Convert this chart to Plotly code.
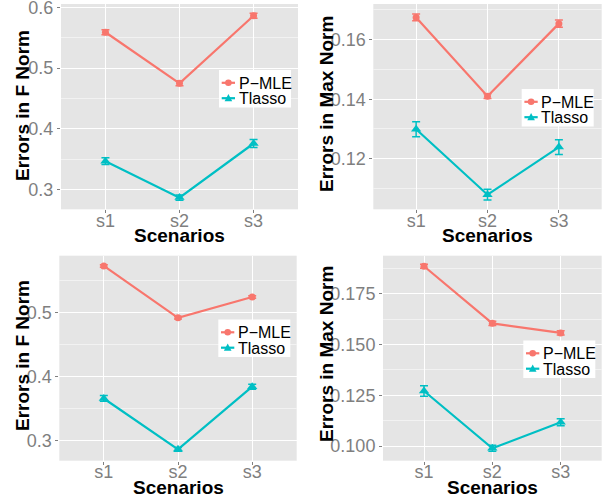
import plotly.graph_objects as go

scenarios = ["s1", "s2", "s3"]

# Panel 1: top-left, Errors in F Norm
p1_pmle = [0.559, 0.475, 0.586]
p1_pmle_err = [0.004, 0.004, 0.004]
p1_tlasso = [0.347, 0.287, 0.376]
p1_tlasso_err = [0.0055, 0.0045, 0.0065]

# Panel 2: top-right, Errors in Max Norm
p2_pmle = [0.1675, 0.141, 0.1654]
p2_pmle_err = [0.0011, 0.0008, 0.0012]
p2_tlasso = [0.1299, 0.1079, 0.1239]
p2_tlasso_err = [0.0025, 0.0018, 0.0025]

# Panel 3: bottom-left, Errors in F Norm
p3_pmle = [0.573, 0.492, 0.5245]
p3_pmle_err = [0.002, 0.002, 0.002]
p3_tlasso = [0.366, 0.2865, 0.3844]
p3_tlasso_err = [0.0045, 0.003, 0.004]

# Panel 4: bottom-right, Errors in Max Norm
p4_pmle = [0.1885, 0.1604, 0.1557]
p4_pmle_err = [0.001, 0.001, 0.001]
p4_tlasso = [0.1271, 0.0989, 0.1117]
p4_tlasso_err = [0.0026, 0.0015, 0.0017]

series_names = ["P\u2212MLE", "Tlasso"]
colors = ["#F8766D", "#00BFC4"]
symbols = ["circle", "triangle-up"]

W, H = 610, 499
FONT = "Liberation Sans, Arial, Helvetica, sans-serif"

panels = [
    dict(pm=p1_pmle, pme=p1_pmle_err, tl=p1_tlasso, tle=p1_tlasso_err,
         xd=[61 / W, 298 / W], yd=[1 - 209.3 / H, 1 - 4 / H],
         yr=[0.2678, 0.6054], tv=[0.3, 0.4, 0.5, 0.6], tt=["0.3", "0.4", "0.5", "0.6"],
         ytitle="Errors in F Norm", ytx=22, yty=106, xtx=179, xty=235,
         lbox=(219, 70)),
    dict(pm=p2_pmle, pme=p2_pmle_err, tl=p2_tlasso, tle=p2_tlasso_err,
         xd=[373.3 / W, 601.7 / W], yd=[1 - 209.3 / H, 1 - 4 / H],
         yr=[0.103, 0.172], tv=[0.12, 0.14, 0.16], tt=["0.12", "0.14", "0.16"],
         ytitle="Errors in Max Norm", ytx=326, yty=104, xtx=487, xty=235,
         lbox=(521.7, 89)),
    dict(pm=p3_pmle, pme=p3_pmle_err, tl=p3_tlasso, tle=p3_tlasso_err,
         xd=[59.3 / W, 296.7 / W], yd=[1 - 460.7 / H, 1 - 255.7 / H],
         yr=[0.2688, 0.589], tv=[0.3, 0.4, 0.5], tt=["0.3", "0.4", "0.5"],
         ytitle="Errors in F Norm", ytx=22, yty=356, xtx=178, xty=487.5,
         lbox=(218.3, 319.5)),
    dict(pm=p4_pmle, pme=p4_pmle_err, tl=p4_tlasso, tle=p4_tlasso_err,
         xd=[383 / W, 601.7 / W], yd=[1 - 460.7 / H, 1 - 255.7 / H],
         yr=[0.0928, 0.1937], tv=[0.100, 0.125, 0.150, 0.175],
         tt=["0.100", "0.125", "0.150", "0.175"],
         ytitle="Errors in Max Norm", ytx=326, yty=354, xtx=492, xty=487.5,
         lbox=(523.3, 340.5)),
]

# legend geometry (pixels, relative to legend box top-left)
LEG_W, LEG_H = 72, 37.5
ROW_Y = [12.8, 28.2]
KEY_X0, KEY_X1, KEY_XM = 2.7, 16.0, 9.4
TEXT_X = 18.5


def px(x):
    return x / W


def py(y):
    return 1 - y / H


fig = go.Figure()
shapes = []
annotations = []
layout = dict(
    width=W, height=H,
    margin=dict(l=0, r=0, t=0, b=0),
    paper_bgcolor="white",
    plot_bgcolor="#E5E5E5",
    font=dict(family=FONT, color="black"),
    showlegend=False,
)

for i, p in enumerate(panels):
    n = i + 1
    xa = "x" if n == 1 else f"x{n}"
    ya = "y" if n == 1 else f"y{n}"
    for s, (vals, errs) in enumerate([(p["pm"], p["pme"]), (p["tl"], p["tle"])]):
        fig.add_trace(go.Scatter(
            x=scenarios, y=vals,
            mode="lines+markers",
            name=series_names[s],
            line=dict(color=colors[s], width=2.2),
            marker=dict(color=colors[s], symbol=symbols[s], size=7 if s == 0 else 9,
                        line=dict(width=0)),
            error_y=dict(type="data", array=errs, visible=True,
                         color=colors[s], thickness=1.5, width=4),
            xaxis=xa, yaxis=ya,
            cliponaxis=False,
            showlegend=False,
        ))
    xkey = "xaxis" if n == 1 else f"xaxis{n}"
    ykey = "yaxis" if n == 1 else f"yaxis{n}"
    layout[xkey] = dict(
        domain=p["xd"], anchor=ya, type="category",
        range=[-0.6, 2.6], automargin=False,
        showgrid=True, gridcolor="white", gridwidth=1.3,
        zeroline=False, showline=False,
        ticks="outside", ticklen=3, tickcolor="#7F7F7F", tickwidth=1,
        tickfont=dict(family=FONT, size=18, color="#7F7F7F"),
        ticklabeloverflow="allow", ticklabelstandoff=-8,
        fixedrange=True,
    )
    layout[ykey] = dict(
        domain=p["yd"], anchor=xa, automargin=False,
        range=p["yr"], tickvals=p["tv"], ticktext=p["tt"],
        showgrid=True, gridcolor="white", gridwidth=1.3,
        minor=dict(dtick=(p["tv"][1] - p["tv"][0]) / 2, tick0=p["tv"][0],
                   showgrid=True, gridcolor="#F2F2F2", gridwidth=0.6, ticks=""),
        zeroline=False, showline=False,
        ticks="outside", ticklen=3, tickcolor="#7F7F7F", tickwidth=1,
        tickfont=dict(family=FONT, size=18, color="#7F7F7F"),
        ticklabeloverflow="allow",
        fixedrange=True,
    )
    annotations.append(dict(
        text="<b>Scenarios</b>", x=px(p["xtx"]), y=py(p["xty"]),
        xref="paper", yref="paper", xanchor="center", yanchor="middle",
        showarrow=False, font=dict(family=FONT, size=19, color="black"),
    ))
    annotations.append(dict(
        text=f"<b>{p['ytitle']}</b>", x=px(p["ytx"]), y=py(p["yty"]),
        xref="paper", yref="paper", xanchor="center", yanchor="middle",
        textangle=-90, showarrow=False,
        font=dict(family=FONT, size=19, color="black"),
    ))

    # legend (ggplot-style compact key box)
    bx, by = p["lbox"]
    shapes.append(dict(type="rect", xref="paper", yref="paper",
                       x0=px(bx), x1=px(bx + LEG_W), y0=py(by + LEG_H), y1=py(by),
                       fillcolor="white", line=dict(width=0), layer="above"))
    for s in range(2):
        ry = by + ROW_Y[s]
        shapes.append(dict(type="line", xref="paper", yref="paper",
                           x0=px(bx + KEY_X0), x1=px(bx + KEY_X1), y0=py(ry), y1=py(ry),
                           line=dict(color=colors[s], width=2.2), layer="above"))
        cx = bx + KEY_XM
        if symbols[s] == "circle":
            r = 3.3
            shapes.append(dict(type="circle", xref="paper", yref="paper",
                               x0=px(cx - r), x1=px(cx + r), y0=py(ry + r), y1=py(ry - r),
                               fillcolor=colors[s], line=dict(width=0), layer="above"))
        else:
            h = 3.8
            path = (f"M {px(cx - h)},{py(ry + h * 0.8)} L {px(cx + h)},{py(ry + h * 0.8)} "
                    f"L {px(cx)},{py(ry - h * 1.1)} Z")
            shapes.append(dict(type="path", xref="paper", yref="paper", path=path,
                               fillcolor=colors[s], line=dict(width=0), layer="above"))
        annotations.append(dict(
            text=series_names[s], x=px(bx + TEXT_X), y=py(ry + 0.5),
            xref="paper", yref="paper", xanchor="left", yanchor="middle",
            showarrow=False, borderpad=0,
            font=dict(family=FONT, size=16, color="black"),
        ))

layout["shapes"] = shapes
layout["annotations"] = annotations
fig.update_layout(**layout)
fig.write_html(
    "out.html",
    config={"displayModeBar": False},
    post_script="document.body.style.margin='0';document.body.style.overflow='hidden';",
)
